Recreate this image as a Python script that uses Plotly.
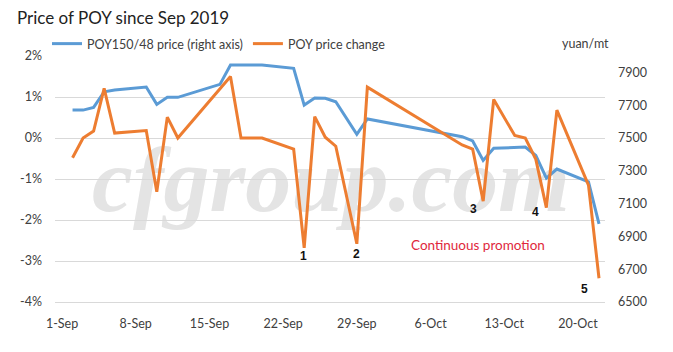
import plotly.graph_objects as go

# ---- data ----
dates = ["2019-09-02", "2019-09-03", "2019-09-04", "2019-09-05", "2019-09-06",
         "2019-09-09", "2019-09-10", "2019-09-11", "2019-09-12", "2019-09-16",
         "2019-09-17", "2019-09-18", "2019-09-19", "2019-09-20", "2019-09-23",
         "2019-09-24", "2019-09-25", "2019-09-26", "2019-09-27", "2019-09-29",
         "2019-09-30", "2019-10-09", "2019-10-10", "2019-10-11", "2019-10-12",
         "2019-10-14", "2019-10-15", "2019-10-16", "2019-10-17", "2019-10-18",
         "2019-10-21", "2019-10-22"]

poy_price = [7670, 7670, 7687, 7782, 7793, 7811, 7705, 7748, 7748, 7827,
             7945, 7945, 7945, 7945, 7925, 7701, 7744, 7742, 7721, 7523,
             7616, 7508, 7482, 7363, 7437, 7442, 7445, 7393, 7256, 7311,
             7232, 6976]

price_change = [-0.48, 0.0, 0.17, 1.21, 0.12, 0.18, -1.31, 0.51, 0.0, 1.22,
                1.5, 0.0, 0.0, 0.0, -0.27, -2.68, 0.52, 0.02, -0.2, -2.58,
                1.24, -0.17, -0.27, -1.54, 0.94, 0.06, 0.0, -0.52, -1.7, 0.68,
                -1.15, -3.42]

x_tick_dates = ["2019-09-01", "2019-09-08", "2019-09-15", "2019-09-22",
                "2019-09-29", "2019-10-06", "2019-10-13", "2019-10-20"]
x_tick_labels = ["1-Sep", "8-Sep", "15-Sep", "22-Sep", "29-Sep", "6-Oct",
                 "13-Oct", "20-Oct"]
left_ticks = [-4, -3, -2, -1, 0, 1, 2]
left_tick_labels = ["-4%", "-3%", "-2%", "-1%", "0%", "1%", "2%"]
right_ticks = [6500, 6700, 6900, 7100, 7300, 7500, 7700, 7900]

series_names = ["POY150/48 price (right axis)", "POY price change"]
title_text = "Price of POY since Sep 2019"
unit_text = "yuan/mt"
note_text = "Continuous promotion"
marker_labels = ["1", "2", "3", "4", "5"]
watermark_text = "cfgroup.com"

# ---- styling ----
BLUE = "#5B9BD5"
ORANGE = "#ED7D31"
GRID = "#d9d9d9"
TXT = "#404040"
FONT = "Lato"

W, H = 673, 352
L, R, T, B = 55, 68, 56, 50
pw, ph = W - L - R, H - T - B


def px2paper(px, py):
    return (px - L) / pw, (H - B - py) / ph


fig = go.Figure()
fig.add_trace(go.Scatter(x=dates, y=poy_price, name=series_names[0], mode="lines",
                         line=dict(color=BLUE, width=3), yaxis="y"))
fig.add_trace(go.Scatter(x=dates, y=price_change, name=series_names[1], mode="lines",
                         line=dict(color=ORANGE, width=3), yaxis="y2"))

annotations = []
ux, uy = px2paper(585, 44)
annotations.append(dict(text=unit_text, x=ux, y=uy, xref="paper", yref="paper",
                        showarrow=False, xanchor="center", yanchor="middle",
                        font=dict(family=FONT, size=12.5, color=TXT)))
nx, ny = px2paper(478, 245)
annotations.append(dict(text=note_text, x=nx, y=ny, xref="paper", yref="paper",
                        showarrow=False, xanchor="center", yanchor="middle",
                        font=dict(family=FONT, size=13.5, color="#e0283c")))
label_px = [(303, 256), (356, 254), (473, 209), (535, 212), (584, 289)]
for lab, (lx, ly) in zip(marker_labels, label_px):
    ax_, ay_ = px2paper(lx, ly)
    annotations.append(dict(text="<b>" + lab + "</b>", x=ax_, y=ay_, xref="paper",
                            yref="paper", showarrow=False, xanchor="center",
                            yanchor="middle",
                            font=dict(family="Liberation Sans", size=12, color="#111")))

wx0, wy0 = px2paper(100, 215)
wx1, wy1 = px2paper(562, 125)
shapes = [dict(type="rect", xref="paper", yref="paper", x0=wx0, x1=wx1, y0=wy0, y1=wy1,
               layer="below", line=dict(width=0), fillcolor="rgba(0,0,0,0)",
               label=dict(text=watermark_text, textposition="middle center",
                          font=dict(family="Liberation Serif", size=92,
                                    color="#e4e4e4", style="italic", weight="bold")))]

fig.update_layout(
    width=W, height=H, autosize=False,
    margin=dict(l=L, r=R, t=T, b=B, pad=0),
    paper_bgcolor="white", plot_bgcolor="white",
    font=dict(family=FONT, size=12, color=TXT),
    title=dict(text=title_text, x=17 / W, xref="container", xanchor="left",
               y=1 - 18 / H, yref="container", yanchor="middle",
               font=dict(family=FONT, size=17, color="#222")),
    showlegend=True,
    legend=dict(orientation="h", x=-8 / pw, xanchor="left", y=px2paper(0, 44)[1],
                yanchor="middle", bgcolor="rgba(0,0,0,0)",
                font=dict(family=FONT, size=12.5, color=TXT), traceorder="normal"),
    xaxis=dict(type="date", range=["2019-08-31 08:00", "2019-10-22 13:40"],
               tickmode="array", tickvals=x_tick_dates, ticktext=x_tick_labels,
               showgrid=False, showline=True, linecolor=GRID, linewidth=1,
               ticks="", ticklabelstandoff=10, zeroline=False,
               tickfont=dict(size=12.5, color=TXT)),
    yaxis=dict(side="right", range=[6500, 8000], tickmode="array", tickvals=right_ticks,
               showgrid=False, zeroline=False, showline=False, ticks="",
               ticklabelstandoff=12, tickfont=dict(size=12.5, color=TXT)),
    yaxis2=dict(side="left", overlaying="y", range=[-4, 2], tickmode="array",
                tickvals=left_ticks, ticktext=left_tick_labels, showgrid=True,
                gridcolor=GRID, gridwidth=1, zeroline=False, showline=False,
                ticks="", ticklabelstandoff=12, tickfont=dict(size=12.5, color=TXT)),
    annotations=annotations,
    shapes=shapes,
)

fig.write_html("out.html")
